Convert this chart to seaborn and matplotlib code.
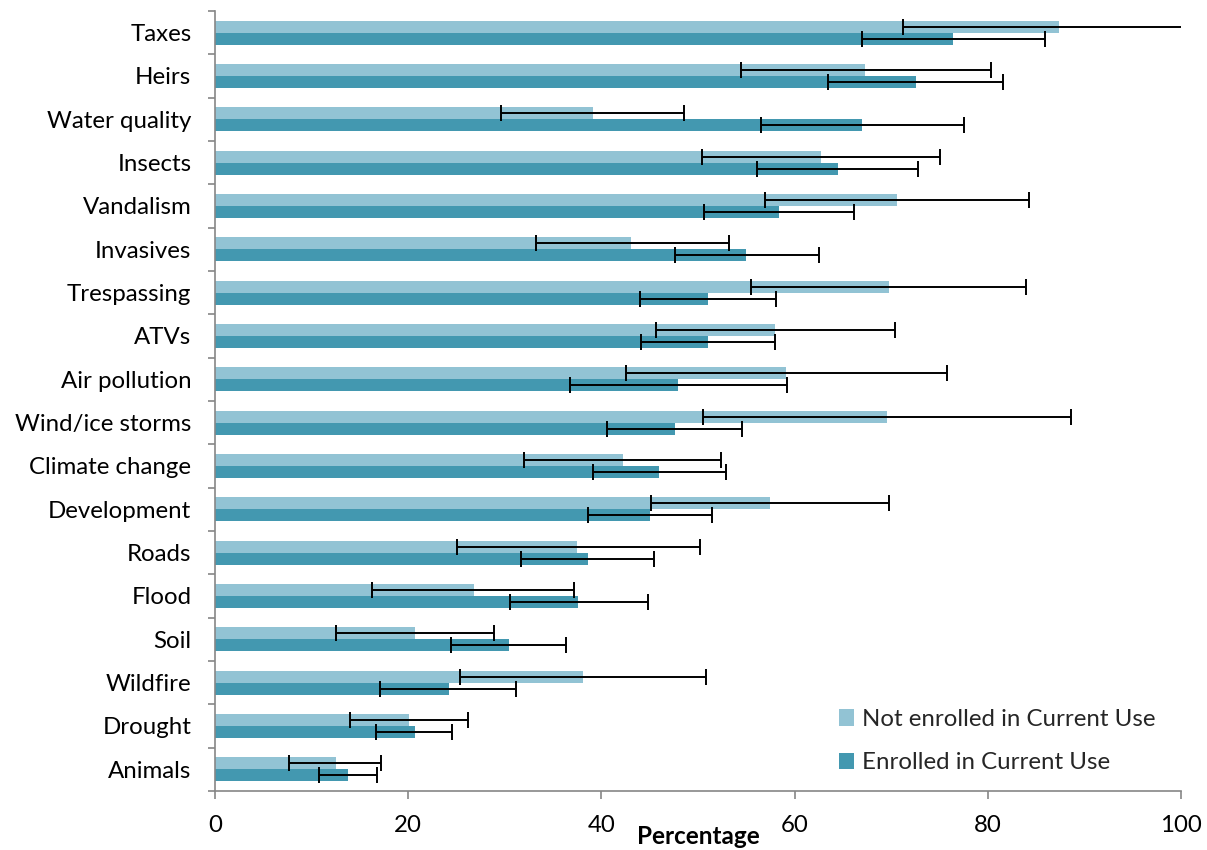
import numpy as np
import pandas as pd
import matplotlib
matplotlib.use("Agg")
import matplotlib.pyplot as plt
from matplotlib.container import BarContainer
import seaborn as sns

categories = ["Taxes", "Heirs", "Water quality", "Insects", "Vandalism", "Invasives",
              "Trespassing", "ATVs", "Air pollution", "Wind/ice storms", "Climate change",
              "Development", "Roads", "Flood", "Soil", "Wildfire", "Drought", "Animals"]
not_enrolled = [87.4, 67.3, 39.1, 62.7, 70.6, 43.1, 69.8, 58.0, 59.1, 69.6, 42.2, 57.5,
                37.5, 26.8, 20.7, 38.1, 20.1, 12.5]
not_enrolled_low = [71.2, 54.4, 29.6, 50.4, 56.9, 33.2, 55.5, 45.7, 42.5, 50.5, 32.0, 45.1,
                    25.0, 16.3, 12.5, 25.4, 14.0, 7.7]
not_enrolled_high = [103.6, 80.3, 48.6, 75.1, 84.3, 53.2, 84.0, 70.4, 75.8, 88.6, 52.4, 69.8,
                     50.2, 37.2, 28.9, 50.8, 26.2, 17.2]
enrolled = [76.4, 72.6, 67.0, 64.5, 58.4, 55.0, 51.0, 51.0, 47.9, 47.6, 46.0, 45.0,
            38.6, 37.6, 30.4, 24.2, 20.7, 13.8]
enrolled_low = [67.0, 63.5, 56.5, 56.1, 50.6, 47.6, 44.0, 44.1, 36.7, 40.6, 39.1, 38.6,
                31.7, 30.5, 24.4, 17.1, 16.7, 10.8]
enrolled_high = [85.9, 81.6, 77.5, 72.8, 66.2, 62.5, 58.1, 58.0, 59.2, 54.6, 52.9, 51.4,
                 45.4, 44.8, 36.3, 31.2, 24.5, 16.8]
series = ["Not enrolled in Current Use", "Enrolled in Current Use"]
colors = ["#92C3D4", "#4398B0"]
x_ticks = [0, 20, 40, 60, 80, 100]

sns.set_theme(style="white")
plt.rcParams['font.family'] = ['Lato', 'DejaVu Sans']

df = pd.DataFrame({
    "category": categories * 2,
    "value": not_enrolled + enrolled,
    "series": [series[0]] * len(categories) + [series[1]] * len(categories),
})

fig = plt.figure(figsize=(12.07, 8.5), dpi=100)
ax = fig.add_axes([215 / 1207, 1 - 791 / 850, (1181 - 215) / 1207, (791 - 11) / 850])

sns.barplot(data=df, y="category", x="value", hue="series", hue_order=series,
            order=categories, palette=colors, width=0.56, orient="h",
            errorbar=None, ax=ax, linewidth=0, saturation=1)

handles, labels = ax.get_legend_handles_labels()
if ax.get_legend() is not None:
    ax.get_legend().remove()

bar_containers = [c for c in ax.containers if isinstance(c, BarContainer)]
lows = [not_enrolled_low, enrolled_low]
highs = [not_enrolled_high, enrolled_high]
for k, cont in enumerate(bar_containers):
    ys = np.array([b.get_y() + b.get_height() / 2 for b in cont.patches])
    xs = np.array([b.get_width() for b in cont.patches])
    lo = np.array(lows[k])
    hi = np.array(highs[k])
    ax.errorbar(xs, ys, xerr=[xs - lo, hi - xs], fmt="none", ecolor="black",
                elinewidth=1.4, capsize=6, capthick=1.4, zorder=5)

ax.set_xlim(0, 100)
ax.set_ylim(len(categories) - 0.5, -0.5)
ax.set_xticks(x_ticks)
ax.set_xticklabels([str(t) for t in x_ticks])
ax.set_yticks(range(len(categories)))
ax.set_yticklabels(categories)
ax.set_yticks(np.arange(-0.5, len(categories), 1.0), minor=True)

spine_color = "#868686"
for s in ["top", "right"]:
    ax.spines[s].set_visible(False)
for s in ["left", "bottom"]:
    ax.spines[s].set_color(spine_color)
    ax.spines[s].set_linewidth(1.2)

fs = 17.3
ax.tick_params(axis="y", which="major", length=0, pad=17, labelsize=fs, labelcolor="black")
ax.tick_params(axis="y", which="minor", length=5, width=1.2, color=spine_color, direction="out", left=True)
ax.tick_params(axis="x", which="major", length=6, width=1.2, color=spine_color, direction="out",
               bottom=True, pad=11, labelsize=fs, labelcolor="black")

ax.set_ylabel("")
ax.set_xlabel("Percentage", fontsize=17.5, fontweight="bold", color="black")
ax.xaxis.set_label_coords(0.5, -0.043)

ax.legend(handles, labels, loc="upper left",
          bbox_to_anchor=((839 - 215) / 966, 1 - (709 - 11) / 780),
          frameon=False, fontsize=fs, handlelength=0.62, handleheight=0.66, handletextpad=0.33,
          labelspacing=0.93, borderpad=0, borderaxespad=0)

fig.savefig("out.png", dpi=100)
